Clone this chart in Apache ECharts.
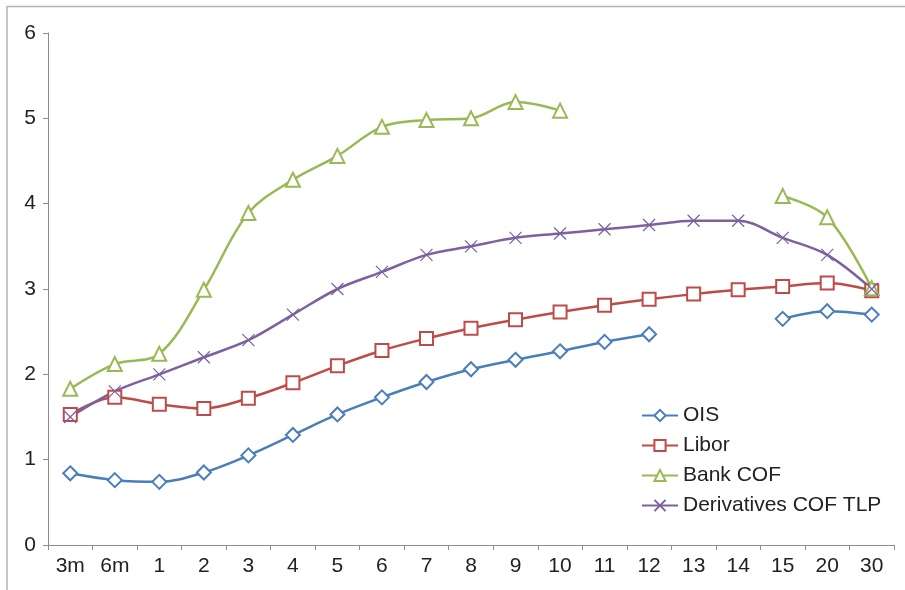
<!DOCTYPE html>
<html>
<head>
<meta charset="utf-8">
<script src="https://cdn.jsdelivr.net/npm/echarts@6/dist/echarts.min.js"></script>
<style>
  html, body { margin: 0; padding: 0; background: #fff; }
  #chart { width: 905px; height: 590px; }
</style>
</head>
<body>
<div id="chart"></div>
<script>
// tenors along the x axis
const tenors = ['3m', '6m', '1', '2', '3', '4', '5', '6', '7', '8', '9', '10', '11', '12', '13', '14', '15', '20', '30'];

// curves (null = gap)
const ois = [0.84, 0.76, 0.74, 0.85, 1.05, 1.29, 1.53, 1.73, 1.91, 2.06, 2.17, 2.27, 2.38, 2.47, null, null, 2.65, 2.74, 2.70];
const libor = [1.53, 1.73, 1.65, 1.60, 1.72, 1.90, 2.10, 2.28, 2.42, 2.54, 2.64, 2.73, 2.81, 2.88, 2.94, 2.99, 3.03, 3.07, 2.98];
const bankCof = [1.83, 2.12, 2.24, 2.99, 3.89, 4.28, 4.56, 4.90, 4.98, 5.00, 5.19, 5.09, null, null, null, null, 4.09, 3.84, 3.01];
const derivCof = [1.50, 1.80, 2.00, 2.20, 2.40, 2.70, 3.00, 3.20, 3.40, 3.50, 3.60, 3.65, 3.70, 3.75, 3.80, 3.80, 3.60, 3.40, 3.00];

const yTicks = [0, 1, 2, 3, 4, 5, 6];

const crossPath = 'path://M0,0L10,10M10,0L0,10';

function mkSeries(name, data, color, symbol, size) {
  return {
    name: name,
    type: 'line',
    data: data,
    smooth: 0.35,
    connectNulls: false,
    symbol: symbol,
    symbolSize: size,
    showAllSymbol: true,
    lineStyle: { color: color, width: 2.5 },
    itemStyle: { color: color, borderColor: color, borderWidth: 1.2 },
    emphasis: { disabled: true }
  };
}

let chart = echarts.init(document.getElementById('chart'));
chart.setOption({
  animation: false,
  textStyle: { fontFamily: 'Liberation Sans, Arial, sans-serif' },
  graphic: [
    {
      type: 'rect',
      shape: { x: 7, y: 6.5, width: 1000, height: 1000 },
      style: { fill: 'none', stroke: '#b4b4b4', lineWidth: 1.5 },
      silent: true
    }
  ],
  grid: { left: 48, right: 11, top: 33, bottom: 45 },
  legend: {
    orient: 'vertical',
    left: 636,
    top: 400,
    itemGap: 9,
    itemWidth: 36,
    itemHeight: 14,
    textStyle: { fontSize: 21, color: '#222' },
    data: ['OIS', 'Libor', 'Bank COF', 'Derivatives COF TLP']
  },
  xAxis: {
    type: 'category',
    data: tenors,
    boundaryGap: true,
    axisLine: { lineStyle: { color: '#8c8c8c', width: 1 } },
    axisTick: { show: true, length: 5, lineStyle: { color: '#8c8c8c' } },
    axisLabel: { fontSize: 21, color: '#222', margin: 11 },
    splitLine: { show: false }
  },
  yAxis: {
    type: 'value',
    min: yTicks[0],
    max: yTicks[yTicks.length - 1],
    interval: 1,
    axisLine: { show: true, lineStyle: { color: '#8c8c8c', width: 1 } },
    axisTick: { show: true, length: 5, lineStyle: { color: '#8c8c8c' } },
    axisLabel: { fontSize: 21, color: '#222', margin: 12 },
    splitLine: { show: false }
  },
  series: [
    mkSeries('OIS', ois, '#4a7ebb', 'emptyDiamond', 14),
    mkSeries('Libor', libor, '#be4b48', 'emptyRect', 13),
    mkSeries('Bank COF', bankCof, '#98b954', 'emptyTriangle', 14),
    mkSeries('Derivatives COF TLP', derivCof, '#7d60a0', crossPath, 12)
  ]
});
</script>
</body>
</html>
